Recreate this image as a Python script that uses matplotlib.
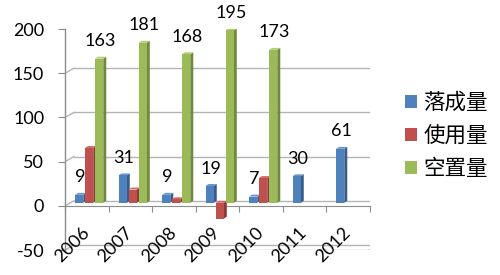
import matplotlib
matplotlib.use("Agg")
import numpy as np
import matplotlib.pyplot as plt
from matplotlib.patches import Polygon, Patch
from matplotlib.transforms import ScaledTranslation

plt.rcParams['font.family'] = ['Lato', 'Noto Sans CJK SC', 'DejaVu Sans']

# data
years = ['2006', '2007', '2008', '2009', '2010', '2011', '2012']
completed = [9, 31, 9, 19, 7, 30, 61]          # 落成量
used = [62, 15, 4, -18, 28, None, None]        # 使用量
vacant = [163, 181, 168, 195, 173, None, None]  # 空置量
series_names = ['落成量', '使用量', '空置量']
yticks = [-50, 0, 50, 100, 150, 200]

front = ['#4F81BD', '#C0504D', '#9BBB59']
side = ['#385D8A', '#8C3836', '#71893F']
top = ['#6C98CE', '#D46C69', '#B2CF78']
grid_c = '#B4B4B4'
axis_c = '#8C8C8C'

fig = plt.figure(figsize=(5, 2.75), dpi=100)
ax = fig.add_axes([0.13, 0.0909, 0.609, 0.8036])
ax.set_xlim(0, len(years))
ax.set_ylim(-50, 200)
for s in ['top', 'right', 'left']:
    ax.spines[s].set_visible(False)
ax.spines['bottom'].set_position(('data', 0))
ax.spines['bottom'].set_color(axis_c)
ax.set_xticks(range(len(years) + 1))
ax.set_xticklabels([])
ax.tick_params(axis='x', length=4.5, color=axis_c, direction='out')
ax.set_yticks(yticks)
ax.set_yticklabels([str(v) for v in yticks], fontsize=13)
ax.tick_params(axis='y', length=5, color=axis_c, pad=10)
ax.set_facecolor('none')

# pixel offsets for fake depth
def shift(dx, dy):
    return ax.transData + ScaledTranslation(dx / 100, dy / 100, fig.dpi_scale_trans)

wall = shift(9, 5)
n = len(years)

# back wall gridlines + left wall diagonals
for v in yticks:
    ax.plot([0, n], [v, v], color=grid_c, lw=1, transform=wall, zorder=1)
    p0 = ax.transData.transform((0, v))
    ax.add_line(plt.Line2D([p0[0], p0[0] + 9], [p0[1], p0[1] + 5], color=grid_c,
                           lw=1, transform=None, zorder=1))
# floor at -50
p0 = ax.transData.transform((0, -50))
p1 = ax.transData.transform((n, -50))
ax.add_line(plt.Line2D([p0[0], p1[0]], [p0[1], p1[1]], color=grid_c, lw=1,
                       transform=None, zorder=1))
ax.add_line(plt.Line2D([p1[0], p1[0] + 9], [p1[1], p1[1] + 5], color=grid_c,
                       lw=1, transform=None, zorder=1))
# front vertical axis
ax.plot([0, 0], [-50, 200], color=axis_c, lw=1, zorder=2, clip_on=False)

# bars
w = 0.19
offsets = [0.23, 0.46, 0.69]
bar_tr = shift(0, 3)
sx, sy = 3, 2
for k, vals in enumerate([completed, used, vacant]):
    for i, v in enumerate(vals):
        if v is None:
            continue
        x = i + offsets[k]
        lo, hi = min(0, v), max(0, v)
        a = bar_tr.transform([(x, lo), (x + w, lo), (x + w, hi), (x, hi)]).tolist()
        side_poly = [a[1], a[2], [a[2][0] + sx, a[2][1] + sy], [a[1][0] + sx, a[1][1] + sy]]
        top_poly = [a[3], a[2], [a[2][0] + sx, a[2][1] + sy], [a[3][0] + sx, a[3][1] + sy]]
        ax.add_patch(Polygon(side_poly, closed=True, transform=None,
                             facecolor=side[k], edgecolor='none', zorder=3 + i))
        ax.add_patch(Polygon(top_poly, closed=True, transform=None,
                             facecolor=top[k], edgecolor='none', zorder=3 + i))
        ax.add_patch(Polygon(a, closed=True, transform=None,
                             facecolor=front[k], edgecolor='none', zorder=3 + i))
        if k != 1:
            ax.annotate(str(v), (x + w / 2, v), xytext=(1, 9),
                        textcoords='offset points', ha='center', va='bottom',
                        fontsize=13, zorder=20)

# rotated year labels
for i, y in enumerate(years):
    ax.text(i + 0.63, -21, y, rotation=45, ha='right', va='top', fontsize=13)

handles = [Patch(facecolor=c, edgecolor='none') for c in front]
fig.legend(handles, series_names, loc='center left',
           bbox_to_anchor=(0.81, 1 - 136 / 275), frameon=False, fontsize=15.5,
           handlelength=0.56, handleheight=0.56, handletextpad=0.3,
           labelspacing=0.6, borderpad=0, borderaxespad=0)

fig.savefig('out.png', dpi=100)
